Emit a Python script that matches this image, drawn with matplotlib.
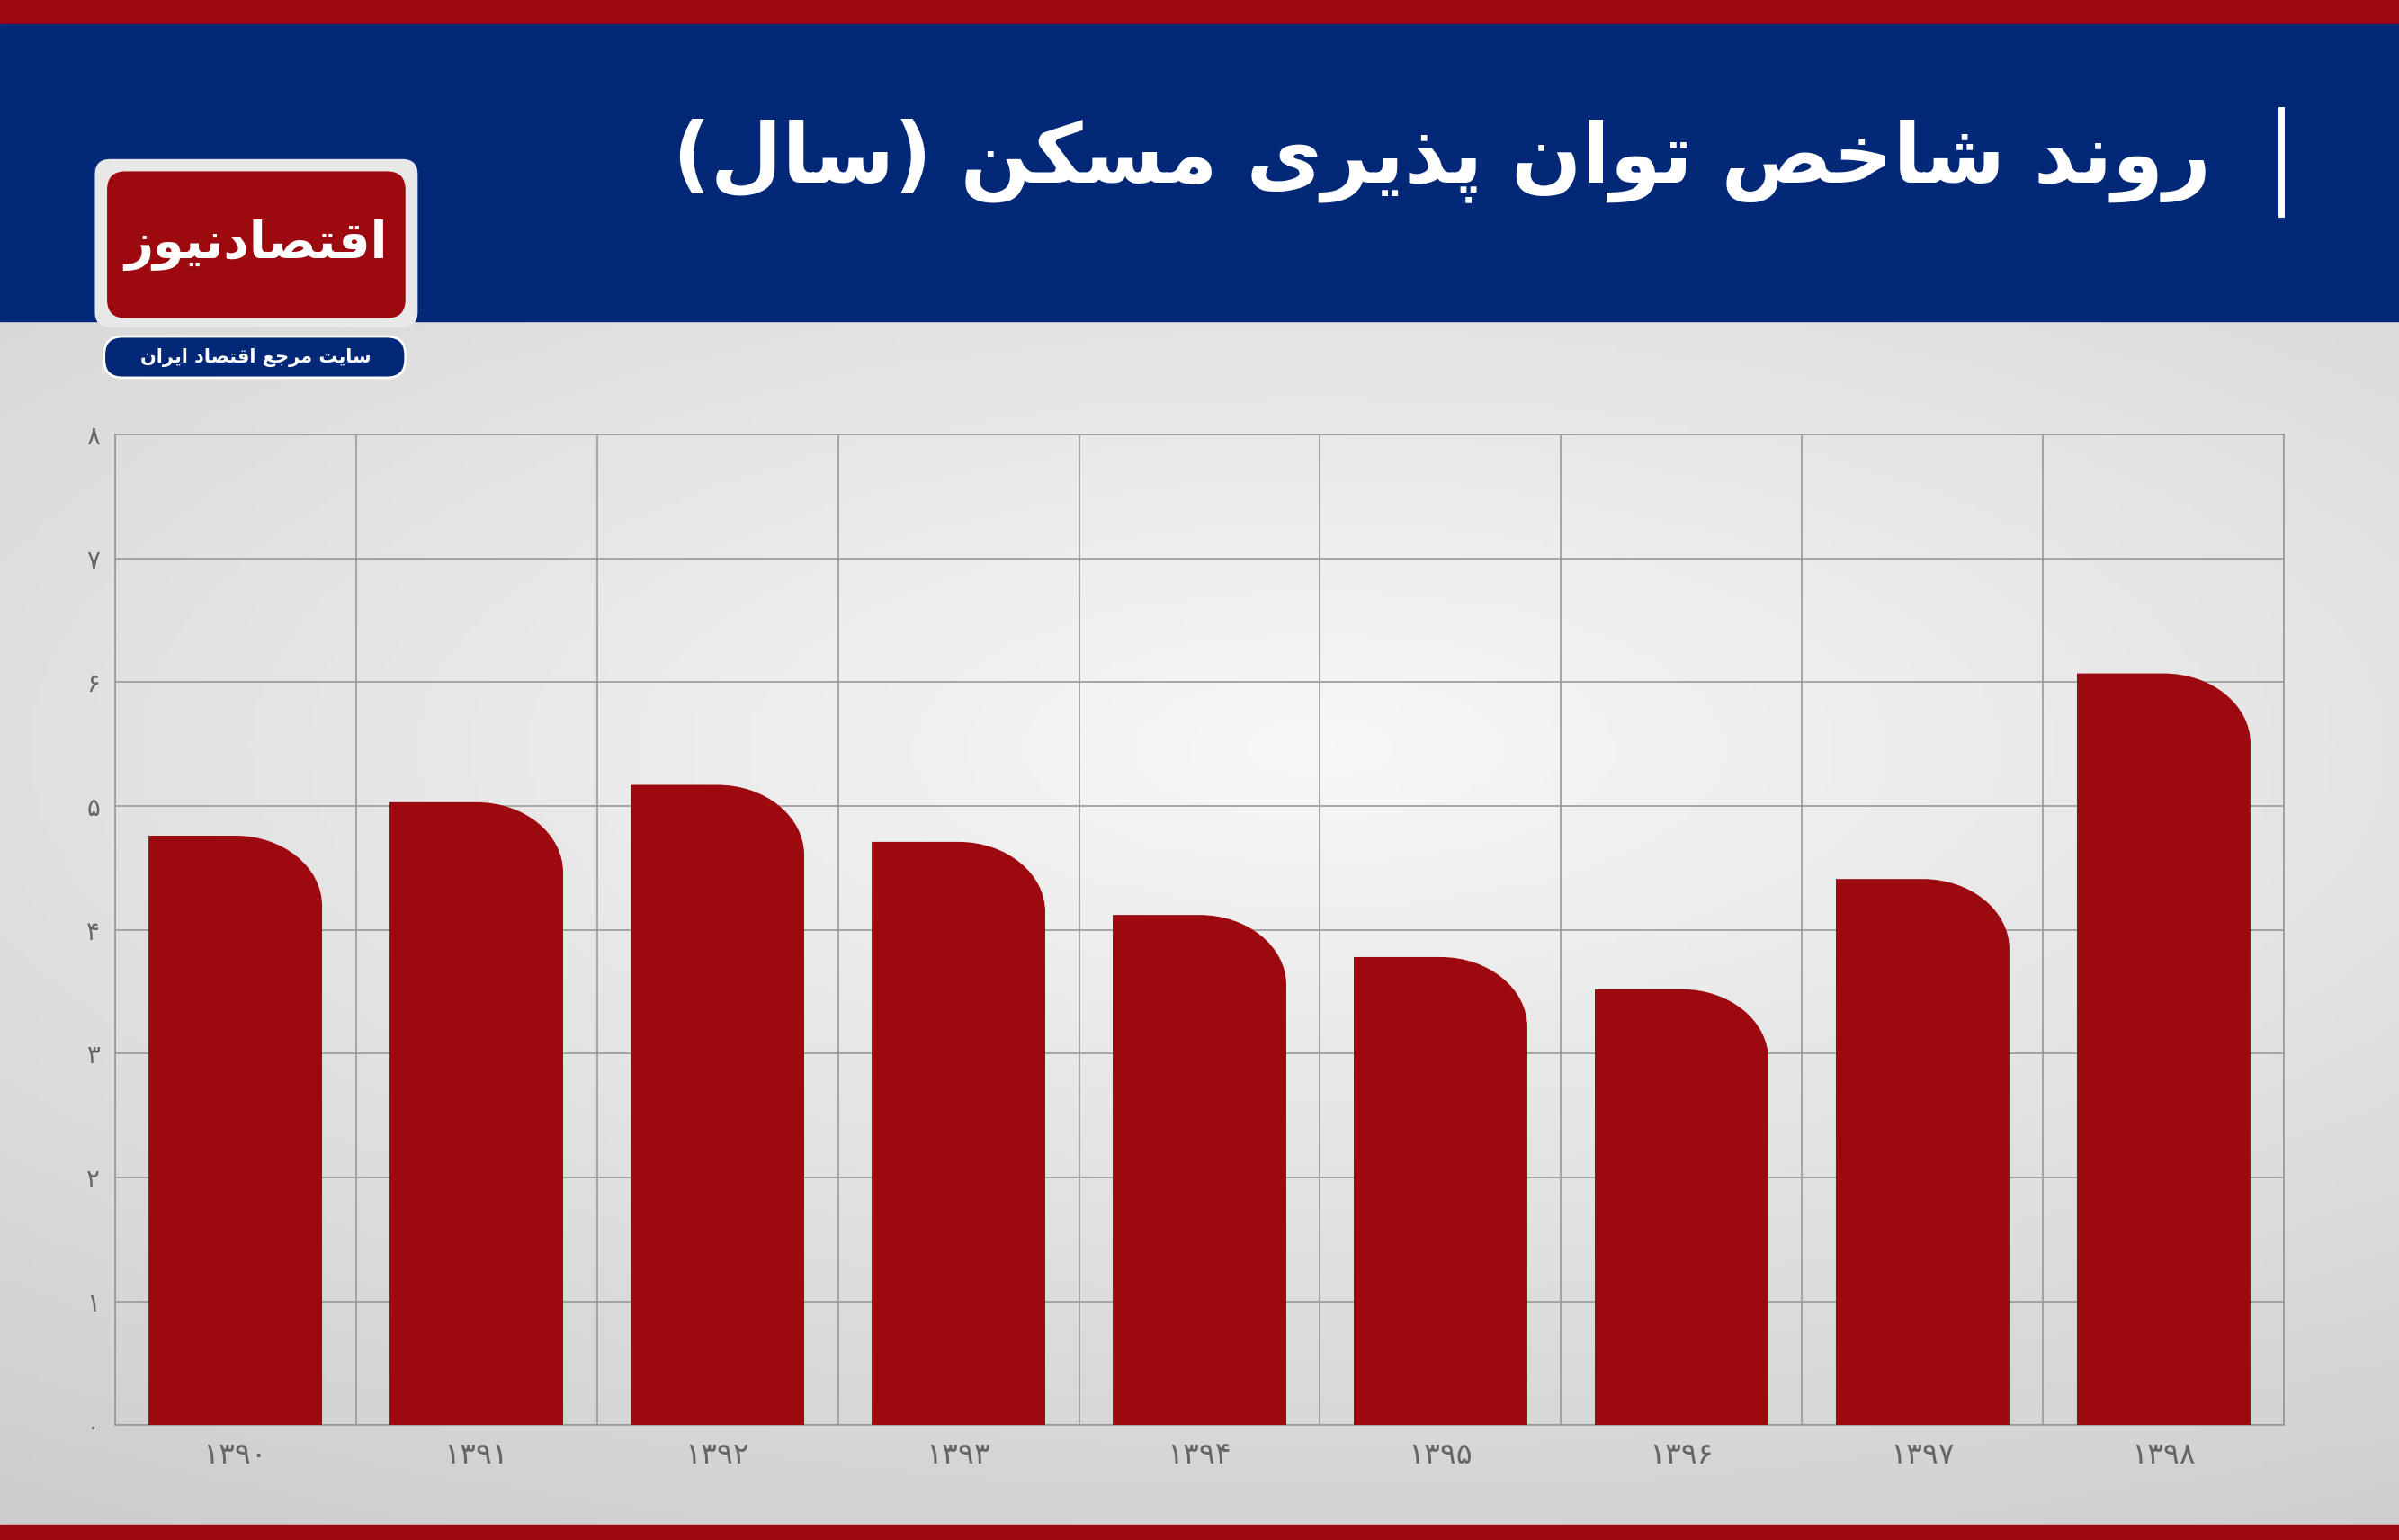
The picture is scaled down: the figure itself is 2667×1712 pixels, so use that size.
import matplotlib
matplotlib.use("Agg")
import matplotlib.pyplot as plt
import numpy as np
from matplotlib.patches import FancyBboxPatch, Rectangle, PathPatch
from matplotlib.path import Path

years = ["۱۳۹۰", "۱۳۹۱", "۱۳۹۲", "۱۳۹۳", "۱۳۹۴", "۱۳۹۵", "۱۳۹۶", "۱۳۹۷", "۱۳۹۸"]
values = [4.76, 5.03, 5.17, 4.71, 4.12, 3.78, 3.52, 4.41, 6.07]
yticks = [0, 1, 2, 3, 4, 5, 6, 7, 8]
ytick_labels = ["۰", "۱", "۲", "۳", "۴", "۵", "۶", "۷", "۸"]
title = "روند شاخص توان پذیری مسکن (سال)"
logo_text = "اقتصادنیوز"
logo_sub = "سایت مرجع اقتصاد ایران"

FORMS = {
    'ا': (0xFE8D, 0xFE8E, None, None), 'د': (0xFEA9, 0xFEAA, None, None),
    'ذ': (0xFEAB, 0xFEAC, None, None), 'ر': (0xFEAD, 0xFEAE, None, None),
    'ز': (0xFEAF, 0xFEB0, None, None), 'و': (0xFEED, 0xFEEE, None, None),
    'پ': (0xFB56, 0xFB57, 0xFB58, 0xFB59), 'ت': (0xFE95, 0xFE96, 0xFE97, 0xFE98),
    'ج': (0xFE9D, 0xFE9E, 0xFE9F, 0xFEA0), 'خ': (0xFEA5, 0xFEA6, 0xFEA7, 0xFEA8),
    'س': (0xFEB1, 0xFEB2, 0xFEB3, 0xFEB4), 'ش': (0xFEB5, 0xFEB6, 0xFEB7, 0xFEB8),
    'ص': (0xFEB9, 0xFEBA, 0xFEBB, 0xFEBC), 'ع': (0xFEC9, 0xFECA, 0xFECB, 0xFECC),
    'ق': (0xFED5, 0xFED6, 0xFED7, 0xFED8), 'ک': (0xFB8E, 0xFB8F, 0xFB90, 0xFB91),
    'ل': (0xFEDD, 0xFEDE, 0xFEDF, 0xFEE0), 'م': (0xFEE1, 0xFEE2, 0xFEE3, 0xFEE4),
    'ن': (0xFEE5, 0xFEE6, 0xFEE7, 0xFEE8), 'ی': (0xFBFC, 0xFBFD, 0xFBFE, 0xFBFF),
}

def shape(s):
    out = []
    n = len(s)
    for i, c in enumerate(s):
        if c not in FORMS:
            out.append({'(': ')', ')': '('}.get(c, c))
            continue
        f = FORMS[c]
        prev = s[i-1] if i > 0 else None
        nxt = s[i+1] if i < n-1 else None
        jp = prev in FORMS and FORMS[prev][2] is not None
        jn = nxt in FORMS and f[2] is not None
        if jp and jn:
            code = f[3]
        elif jp:
            code = f[1]
        elif jn:
            code = f[2]
        else:
            code = f[0]
        out.append(chr(code))
    return "".join(out[::-1])

plt.rcParams['font.family'] = ['DejaVu Sans']
W, H = 1568, 1007
fig = plt.figure(figsize=(26.67, 17.12), dpi=100)

bg = fig.add_axes([0, 0, 1, 1], zorder=0)
bg.set_xlim(0, W); bg.set_ylim(H, 0); bg.axis('off')
yy, xx = np.mgrid[0:1:200j, 0:1:300j]
grad = 0.80 + 0.17 * np.clip(1 - np.sqrt(((xx-0.55)*1.0)**2 + ((yy-0.35)*1.3)**2), 0, 1)
bg.imshow(np.dstack([grad, grad, grad]), extent=[0, W, H, 210], aspect='auto', zorder=0)
bg.add_patch(Rectangle((0, 0), W, 16, color='#9c0a10', zorder=1))
bg.add_patch(Rectangle((0, 16), W, 194, color='#022877', zorder=1))
bg.add_patch(Rectangle((0, 997), W, 10, color='#9c0a10', zorder=1))
bg.text(1445, 105, shape(title), color='white', fontsize=66, fontweight='bold',
        ha='right', va='center', zorder=3)
bg.plot([1491, 1491], [72, 140], color='white', lw=5, zorder=3)
# logo
bg.add_patch(FancyBboxPatch((62, 104), 211, 110, boxstyle="round,pad=0,rounding_size=10",
                            fc='#e8e8e8', ec='none', zorder=2))
bg.add_patch(FancyBboxPatch((70, 112), 195, 96, boxstyle="round,pad=0,rounding_size=12",
                            fc='#9c0a10', ec='none', zorder=3))
bg.text(167, 160, shape(logo_text), color='white', fontsize=40, fontweight='bold',
        ha='center', va='center', zorder=4)
bg.add_patch(FancyBboxPatch((68, 220), 197, 27, boxstyle="round,pad=0,rounding_size=12",
                            fc='#022877', ec='white', lw=2, zorder=3))
bg.text(167, 234, shape(logo_sub), color='white', fontsize=15, fontweight='bold',
        ha='center', va='center', zorder=4)

ax = fig.add_axes([75/W, 1-932/H, (1493-75)/W, (932-284)/H], zorder=2)
ax.patch.set_alpha(0)
ax.set_xlim(-0.5, len(values) - 0.5)
ax.set_ylim(0, 8)
ax.set_yticks(yticks)
ax.set_yticklabels(ytick_labels, fontsize=20, color='#666666')
ax.set_xticks(range(len(values)))
ax.set_xticklabels(years, fontsize=24, color='#666666')
ax.set_xticks(np.arange(-0.5, len(values), 1.0), minor=True)
ax.tick_params(which='both', length=0, pad=12)
ax.grid(True, which='minor', axis='x', color='#999999', lw=1.2)
ax.grid(True, which='major', axis='y', color='#999999', lw=1.2)
ax.set_axisbelow(True)
for s in ax.spines.values():
    s.set_color('#999999'); s.set_linewidth(1.2)

bw = 0.72
rx = bw / 2
ry = rx * (158 / 81) * (46 / 57)
k = 0.5523
for i, v in enumerate(values):
    x0, x1 = i - bw/2, i + bw/2
    verts = [(x0, 0), (x0, v), (x1 - rx, v),
             (x1 - rx + k*rx, v), (x1, v - ry + k*ry), (x1, v - ry),
             (x1, 0), (x0, 0)]
    codes = [Path.MOVETO, Path.LINETO, Path.LINETO, Path.CURVE4, Path.CURVE4, Path.CURVE4,
             Path.LINETO, Path.CLOSEPOLY]
    ax.add_patch(PathPatch(Path(verts, codes), fc='#9c0a10', ec='none', zorder=3))

fig.savefig("out.png", dpi=100)
